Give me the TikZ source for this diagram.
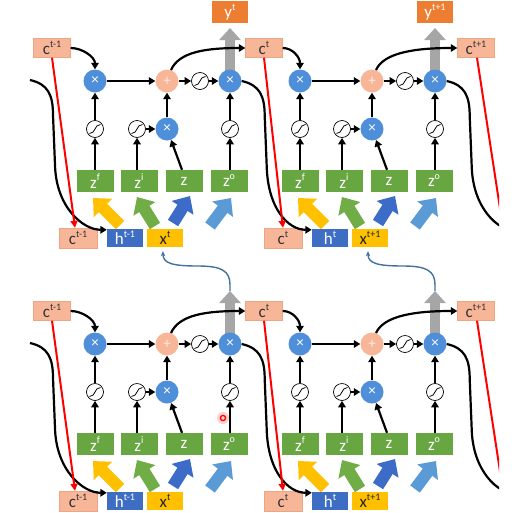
\documentclass[tikz,border=0pt]{standalone}
\usepackage{fontspec}
\setmainfont{Carlito}
\usetikzlibrary{arrows.meta,calc,backgrounds}
\definecolor{cblue}{RGB}{79,143,218}
\definecolor{salmon}{RGB}{248,182,152}
\definecolor{salmonD}{RGB}{238,165,130}
\definecolor{yorange}{RGB}{237,125,49}
\definecolor{zgreen}{RGB}{104,166,66}
\definecolor{hblue}{RGB}{62,110,195}
\definecolor{xgold}{RGB}{255,192,0}
\definecolor{agreen}{RGB}{112,173,71}
\definecolor{ablue}{RGB}{60,108,200}
\definecolor{alblue}{RGB}{91,155,213}
\definecolor{ggray}{RGB}{166,166,166}
\definecolor{thinblue}{RGB}{65,113,156}
\newcommand\spr[1]{\raisebox{0.42em}{\fontsize{10}{10}\selectfont #1}}
\tikzset{
 blk/.style={line width=2.2pt, -{Triangle[length=6.5pt,width=7.5pt]}},
 curv/.style={line width=2.2pt, -{Triangle[length=6.5pt,width=7.5pt]}},
 redarr/.style={red, line width=2pt, -{Triangle[length=7pt,width=7pt]}},
 redline/.style={red, line width=2pt},
 thinarr/.style={thinblue, line width=1.4pt, -{Stealth[length=5pt,width=4.5pt]}},
 grayarr/.style={ggray, line width=10pt, -{Triangle[length=12pt,width=21pt]}},
 bigarr/.style={#1, line width=12pt, -{Triangle[length=14pt,width=25pt]}},
 mulc/.style={circle, fill=cblue, minimum size=23pt, inner sep=0pt, text=white, font=\fontsize{15}{15}\selectfont},
 addc/.style={circle, fill=salmon, minimum size=23pt, inner sep=0pt, text=white!70!salmon, font=\fontsize{15}{15}\selectfont},
 sigc/.style={circle, draw=black, line width=0.7pt, fill=white, minimum size=17pt, inner sep=0pt,
   path picture={\draw[line width=0.8pt] ($(path picture bounding box.center)+(-5.5,4.5)$) .. controls +(6.5,0) and +(-6.5,0) .. ($(path picture bounding box.center)+(5.5,-4.5)$);}},
 boxc/.style={rectangle, inner sep=0pt, font=\fontsize{17}{17}\selectfont},
 ctop/.style={boxc, fill=salmon, draw=salmonD, line width=0.4pt, minimum width=37pt, minimum height=19pt, text=black!80},
 cbot/.style={boxc, fill=salmon, draw=salmonD, line width=0.4pt, minimum width=38pt, minimum height=20pt, text=black!80},
 zbox/.style={boxc, fill=zgreen, minimum width=37pt, minimum height=22pt, text=white},
 hbox/.style={boxc, fill=hblue, minimum width=36pt, minimum height=18pt, text=white},
 xbox/.style={boxc, fill=xgold, minimum width=36pt, minimum height=18pt, text=black!85},
 ybox/.style={boxc, fill=yorange, minimum width=36pt, minimum height=22pt, text=white},
}
% #1 shift, #2 suffix, #3 c label, #4 h label, #5 x label
\newcommand\lstmcell[5]{%
\begin{scope}[shift={#1}]
 \node[mulc] (fx#2) at (95,81) {×};
 \node[addc] (pl#2) at (167,81) {+};
 \node[sigc] (th#2) at (200,81) {};
 \node[mulc] (ox#2) at (230,81) {×};
 \node[sigc] (sf#2) at (95,129) {};
 \node[sigc] (si#2) at (137,129) {};
 \node[mulc] (ix#2) at (167,129) {×};
 \node[sigc] (so#2) at (230,129) {};
 \node[zbox] (zf#2) at (95,181) {z\spr{f}};
 \node[zbox] (zi#2) at (139,181) {z\spr{i}};
 \node[zbox] (zz#2) at (184,181) {z};
 \node[zbox] (zo#2) at (229,181) {z\spr{o}};
 \node[cbot] (cb#2) at (78,238) {c\spr{#3}};
 \node[hbox] (hb#2) at (125,238) {h\spr{#4}};
 \node[xbox] (xb#2) at (165,238) {x\spr{#5}};
 \coordinate (gt#2) at (230,28);
 \coordinate (at1#2) at (120,225); \coordinate (ah1#2) at (93,198);
 \coordinate (at2#2) at (155,226); \coordinate (ah2#2) at (137,197);
 \coordinate (at3#2) at (173,223); \coordinate (ah3#2) at (190,196);
 \coordinate (at4#2) at (210,226); \coordinate (ah4#2) at (231,198);
\end{scope}
\begin{scope}[on background layer]
 \draw[grayarr] (ox#2.center) -- (gt#2);
\end{scope}
\draw[bigarr=xgold] (at1#2) -- (ah1#2);
\draw[bigarr=agreen] (at2#2) -- (ah2#2);
\draw[bigarr=ablue] (at3#2) -- (ah3#2);
\draw[bigarr=alblue] (at4#2) -- (ah4#2);
\draw[blk] (fx#2) -- (pl#2);
\draw[blk] (pl#2) -- (th#2);
\draw[blk] (th#2) -- (ox#2);
\draw[blk] (zf#2) -- (sf#2);
\draw[blk] (sf#2) -- (fx#2);
\draw[blk] (si#2 |- zi#2.north) -- (si#2);
\draw[blk] (si#2) -- (ix#2);
\draw[blk] ($(zz#2.north)+(-2,0)$) -- (ix#2);
\draw[blk] (ix#2) -- (pl#2);
\draw[blk] (so#2 |- zo#2.north) -- (so#2);
\draw[blk] (so#2) -- (ox#2);
}
% incoming/outgoing hidden-state curve
\newcommand\hcurve[2]{%
\draw[curv] (#1) .. controls +(18,4) and +(0,-20) .. ++(23,35) -- ++(2,50) .. controls +(1,42) and +(-24,0) .. (#2);
}
\begin{document}
\begin{tikzpicture}[x=1pt,y=-1pt]
\useasboundingbox (0,0) rectangle (525,512);
\clip (0,0) rectangle (499,512);
% ---------- top row ----------
\node[ctop] (c1) at (52,48) {c\spr{t-1}};
\node[ctop] (c2) at (264,48) {c\spr{t}};
\node[ctop] (c3) at (476,48) {c\spr{t+1}};
\node[ybox] (y1) at (230,12) {y\spr{t}};
\node[ybox] (y2) at (435,12) {y\spr{t+1}};
\lstmcell{(0,0)}{1}{t-1}{t-1}{t}
\lstmcell{(205,0)}{2}{t}{t}{t+1}
\coordinate (s1) at (30,80);
\coordinate (e2) at (522,231);
\coordinate (r3) at (503,228);
\hcurve{s1}{$(hb1.north west)+(0,1)$}
\hcurve{ox1.east}{$(hb2.north west)+(0,1)$}
\hcurve{ox2.east}{e2}
\draw[blk] (c1.east) .. controls +(12,0) and +(0,-12) .. (fx1.north);
\draw[blk] (c2.east) .. controls +(10,0) and +(0,-12) .. (fx2.north);
\draw[blk] (pl1.70) .. controls +(8,-18) and +(-40,0) .. (c2.west);
\draw[blk] (pl2.70) .. controls +(8,-18) and +(-40,0) .. (c3.west);
\draw[redarr] (c1.south) -- ($(cb1.north)+(-3,0)$);
\draw[redarr] (c2.south) -- ($(cb2.north)+(0,0)$);
\draw[redline] ($(c3.south)+(1,0)$) -- (r3);
% ---------- bottom row ----------
\begin{scope}[shift={(0,263)}]
\node[ctop] (c4) at (52,48) {c\spr{t-1}};
\node[ctop] (c5) at (264,48) {c\spr{t}};
\node[ctop] (c6) at (476,48) {c\spr{t+1}};
\coordinate (s3) at (30,80);
\coordinate (e4) at (522,231);
\coordinate (r6) at (503,228);
\coordinate (dot) at (223,155);
\end{scope}
\lstmcell{(0,263)}{3}{t-1}{t-1}{t}
\lstmcell{(205,263)}{4}{t}{t}{t+1}
\hcurve{s3}{$(hb3.north west)+(0,1)$}
\hcurve{ox3.east}{$(hb4.north west)+(0,1)$}
\hcurve{ox4.east}{e4}
\draw[blk] (c4.east) .. controls +(12,0) and +(0,-12) .. (fx3.north);
\draw[blk] (c5.east) .. controls +(10,0) and +(0,-12) .. (fx4.north);
\draw[blk] (pl3.70) .. controls +(8,-18) and +(-40,0) .. (c5.west);
\draw[blk] (pl4.70) .. controls +(8,-18) and +(-40,0) .. (c6.west);
\draw[redarr] (c4.south) -- ($(cb3.north)+(-3,0)$);
\draw[redarr] (c5.south) -- ($(cb4.north)+(0,0)$);
\draw[redline] ($(c6.south)+(1,0)$) -- (r6);
% thin blue links from outputs of the lower row to the inputs of the upper row
\draw[thinarr] (gt3) -- ++(0,-6) .. controls +(0,-14) and +(24,0) .. ++(-32,-19) .. controls +(-26,0) and +(0,12) .. ($(xb1.south)+(-2,4)$);
\draw[thinarr] (gt4) -- ++(0,-6) .. controls +(0,-14) and +(24,0) .. ++(-32,-19) .. controls +(-26,0) and +(0,12) .. ($(xb2.south)+(-2,4)$);
% pointer dot
\fill[red!25, opacity=0.7] (dot) circle (6);
\draw[red, line width=1.3pt] (dot) circle (2.6);
\end{tikzpicture}
\end{document}
